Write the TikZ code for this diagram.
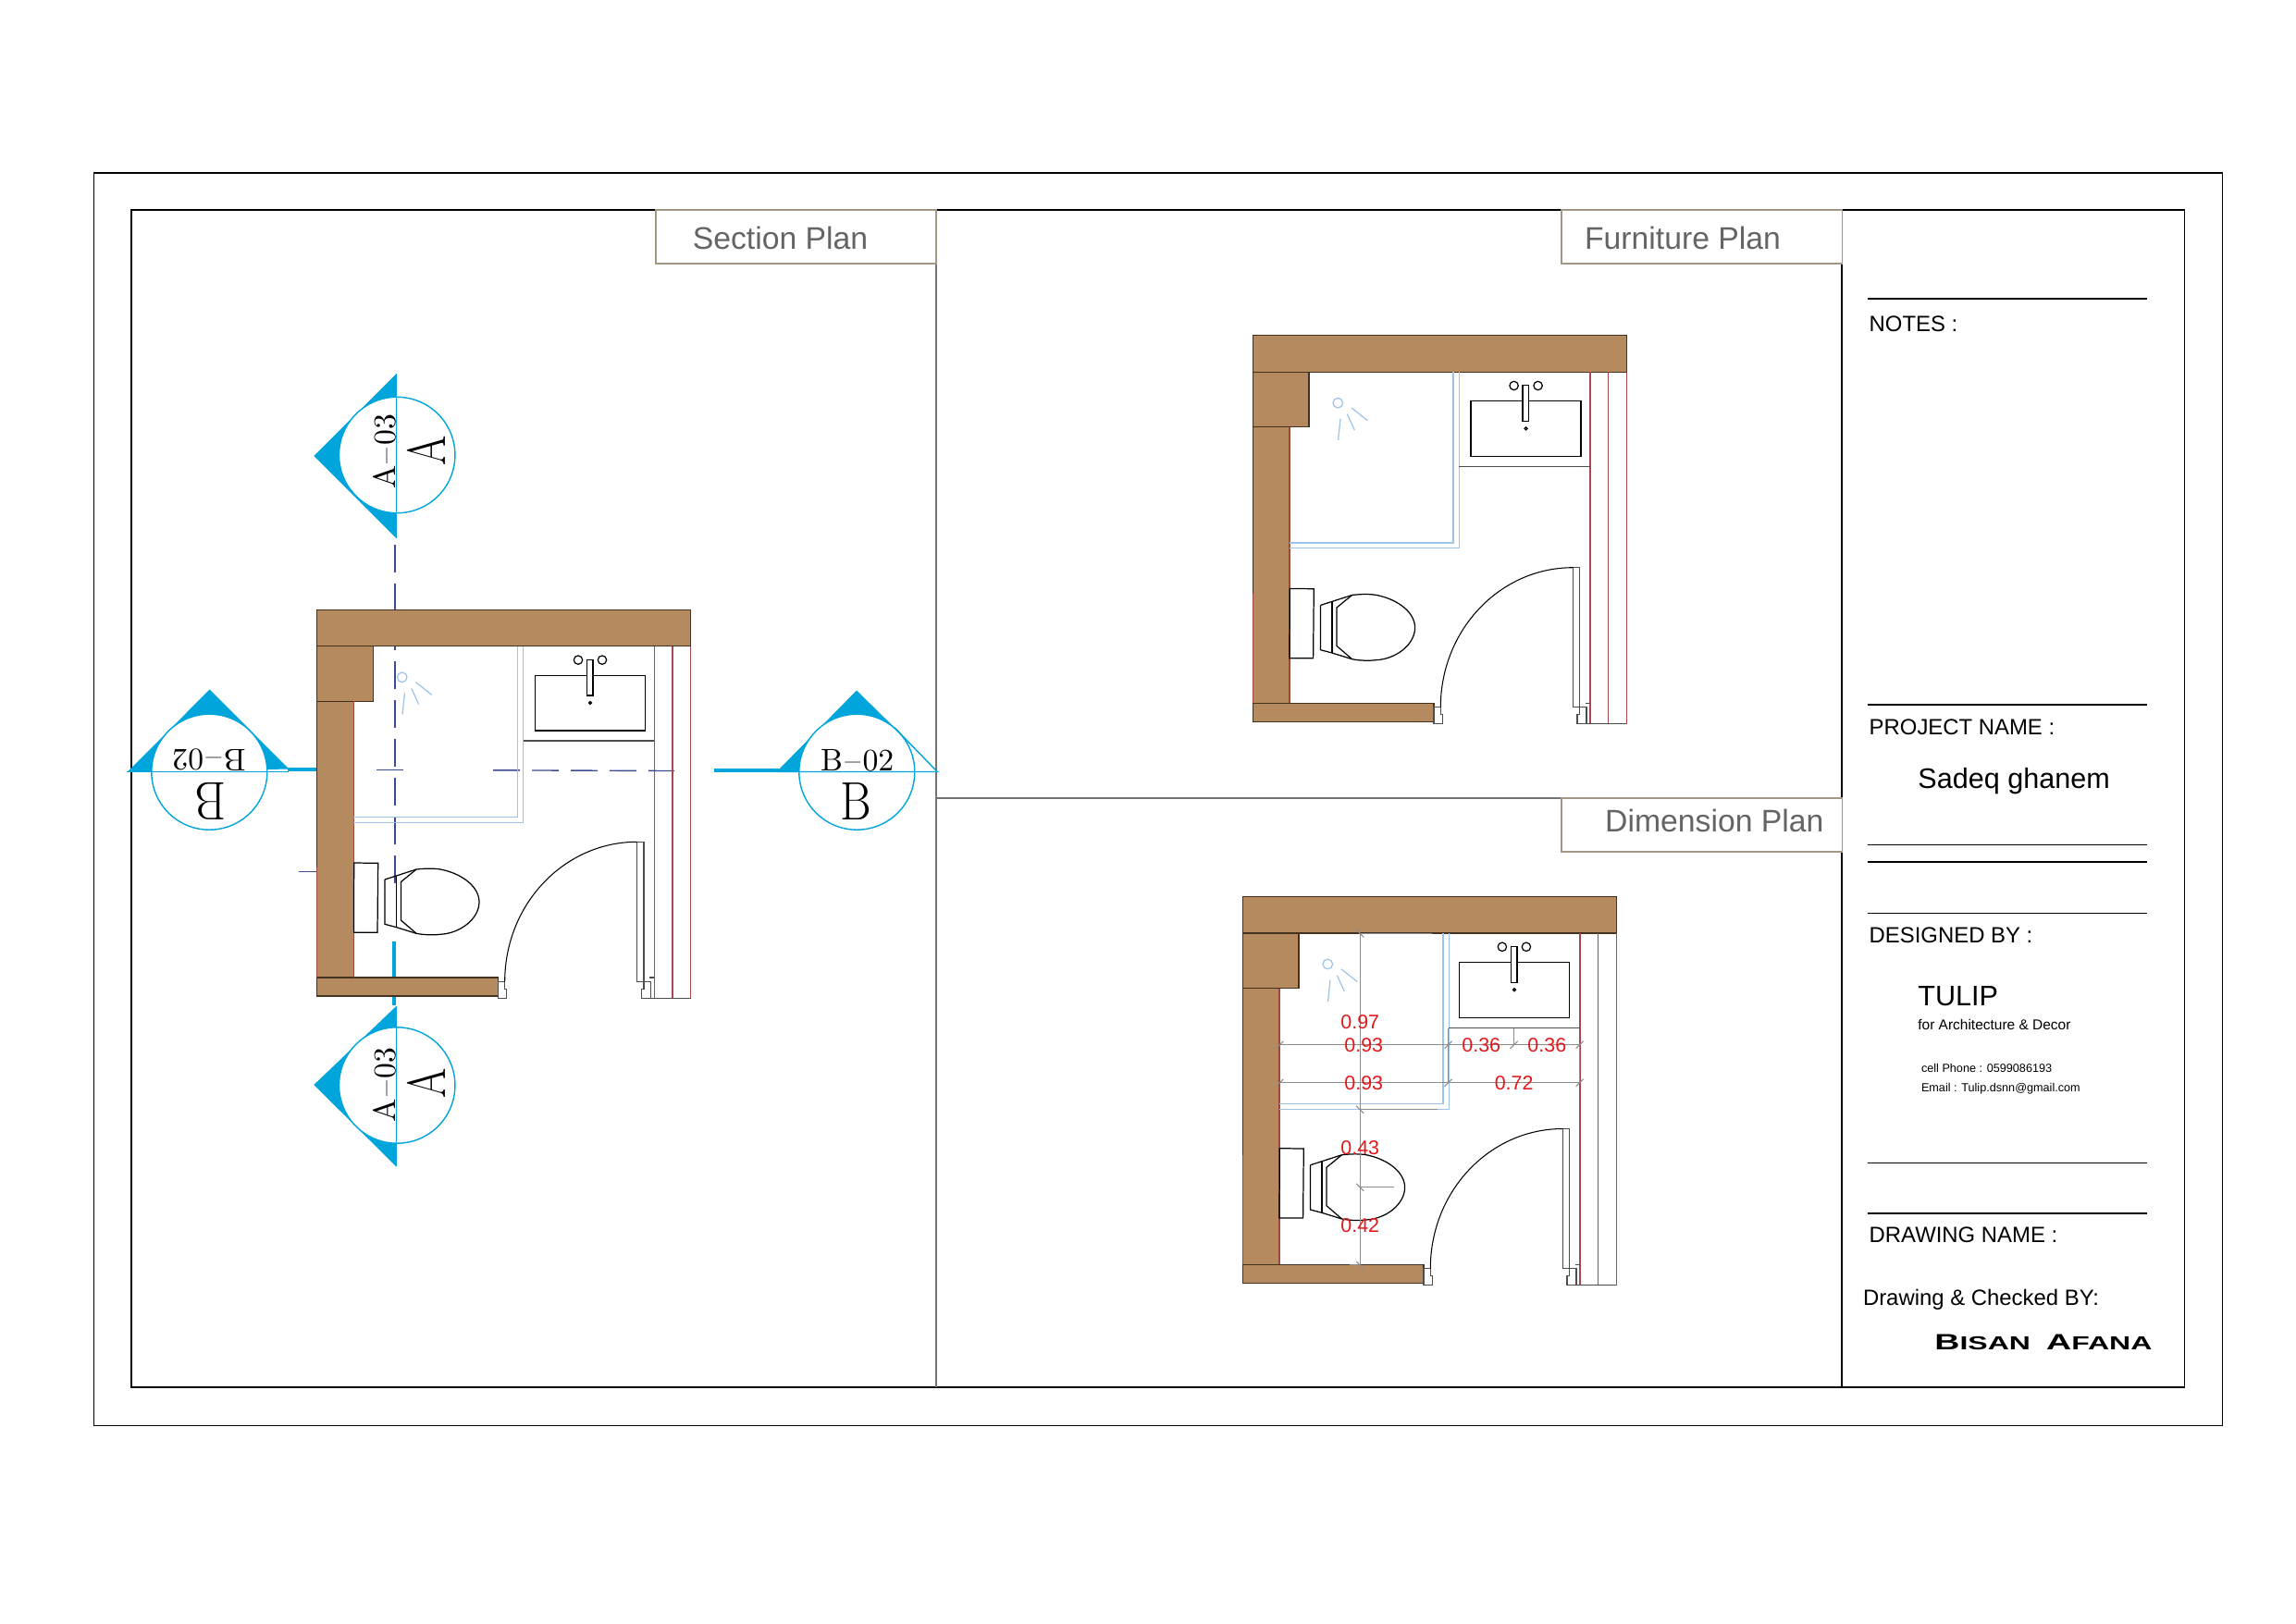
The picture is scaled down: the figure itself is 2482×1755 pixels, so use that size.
\documentclass[tikz,border=0pt]{standalone}
\usepackage{fontspec}
\setsansfont{Liberation Sans}

\definecolor{wallbrown}{HTML}{B58A5E}
\definecolor{walledge}{HTML}{43321F}
\definecolor{wallred}{HTML}{9C4A3A}
\definecolor{markerblue}{HTML}{00A5DC}
\definecolor{showerblue}{HTML}{9DC3E6}
\definecolor{fitred}{HTML}{A9474C}
\definecolor{cutnavy}{HTML}{3C4A8F}
\definecolor{tabtan}{HTML}{A39785}
\definecolor{tabgray}{HTML}{636466}
\definecolor{dimgray}{HTML}{8C8C8C}
\definecolor{dimred}{HTML}{E2181C}

\tikzset{
  wall/.style={fill=wallbrown,draw=walledge,line width=0.3pt},
  fixture/.style={draw=black,line width=0.35pt},
  doorline/.style={draw=black!70,line width=0.3pt},
  shower/.style={draw=showerblue,line width=0.35pt},
  fitline/.style={draw=fitred,line width=0.3pt},
  cutline/.style={draw=cutnavy,line width=0.4pt},
  sheetline/.style={draw=black,line width=0.45pt},
  panelline/.style={draw=black!55,line width=0.3pt},
  tab/.style={draw=tabtan,line width=0.45pt,fill=white},
  tabtext/.style={font=\sffamily\fontsize{9.6}{11}\selectfont,text=tabgray,inner sep=0pt},
  titletext/.style={font=\sffamily\fontsize{6.8}{8}\selectfont,anchor=west,inner sep=0pt},
  nametext/.style={font=\sffamily\fontsize{8.7}{10}\selectfont,anchor=west,inner sep=0pt},
  smalltext/.style={font=\sffamily\fontsize{3.6}{5}\selectfont,anchor=west,inner sep=0pt},
  refsmall/.style={font=\fontsize{9.6}{11}\selectfont,inner sep=0pt},
  refbig/.style={font=\fontsize{16.6}{18}\selectfont,inner sep=0pt},
  dimtext/.style={font=\sffamily\fontsize{6.1}{7}\selectfont,text=dimred,inner sep=0pt},
  dimline/.style={draw=dimgray,line width=0.3pt}
}

\begin{document}
\begin{tikzpicture}[x=0.1mm,y=-0.1mm]
\useasboundingbox (0,0) rectangle (2482,1755);

% sheet frame
\draw[sheetline] (101.5,187) rectangle (2402.5,1541.5);
\draw[sheetline] (142,227) rectangle (2361.5,1500);
\draw[panelline] (1012,227) -- (1012,1500);
\draw[panelline] (1012,863) -- (1991,863);
\draw[sheetline,line width=0.35pt] (1991,227) -- (1991,1500);

% title tabs
\draw[tab] (709,227) rectangle (1012,285);
\draw[tab] (1688,227) rectangle (1991.3,285);
\draw[tab] (1688,862.7) rectangle (1991.3,920.7);
\node[tabtext] (sectiontitle) at (843.5,257) {Section Plan};
\node[tabtext] (furnituretitle) at (1819,257.5) {Furniture Plan};
\node[tabtext] (dimensiontitle) at (1853.3,887) {Dimension Plan};

% cut lines
\draw[cutline,dash pattern=on 3mm off 1.2mm] (427,589) -- (427,957);
\draw[cutline,dash pattern=on 2.9mm off 1.3mm] (533,832.8) -- (729,833.5);
\draw[cutline] (407,832.7) -- (436,832.7);
\draw[cutline] (322.7,942.7) -- (343,942.7);

% blue bars
\draw[markerblue,line width=1.15pt] (426,1018) -- (426,1087);
\draw[markerblue,line width=1.15pt] (311,832) -- (343,832);
\draw[markerblue,line width=1.15pt] (772,832.5) -- (842,832.5);

% the same room three times, the last one with sink and toilet a little off
\foreach \px/\py/\sx/\ty in {342.7/659.3/0/0,1354.3/362.7/0/0,1343.3/969.5/-1.7/-1.5}{
\begin{scope}[shift={(\px,\py)}]
  % walls
  \draw[wall] (0,99) rectangle (39.7,397.7);
  \draw[wall] (0,0) rectangle (404,39.5);
  \draw[wall] (0,39.5) rectangle (60.7,99);
  \draw[wall] (0,397.7) rectangle (195.7,417.7);
  \draw[wallred] (39.7,99) -- (39.7,397.7);
  \draw[wallred,line width=0.3pt] (0,279) -- (0,397.7);
  % right side
  \draw[fitline] (364.7,39.5) -- (364.7,420);
  \draw[fitline] (384.3,39.5) -- (384.3,420);
  \draw[fitline] (404,39.5) -- (404,420);
  \draw[doorline] (350.7,420) -- (404,420);
  % shower
  \draw[shower] (216.7,39.5) -- (216.7,224.3) -- (39.7,224.3);
  \draw[shower] (223,39.5) -- (223,230) -- (39.7,230);
  \draw[shower] (92,73) circle (5.3);
  \draw[shower] (106.7,78.3) -- (124,92);
  \draw[shower] (102,85) -- (110,102.3);
  \draw[shower] (94.7,90) -- (92.3,113.3);
  % sink
  \draw[doorline,line width=0.35pt] (223,141.7) -- (364.7,141.7);
  \begin{scope}[xshift=\sx*0.1mm]
    \draw[fixture] (235.7,71) rectangle (354.7,130.7);
    \draw[fixture,fill=white] (291.7,54) rectangle (298.3,92.7);
    \draw[fixture] (282.3,54.3) circle (4.7);
    \draw[fixture] (308.3,54.3) circle (4.7);
    \draw[fixture] (295.3,100.7) circle (1.5);
  \end{scope}
  % toilet
  \begin{scope}[yshift=-\ty*0.1mm]
    \draw[fixture] (40,273.7) -- (66,274) -- (65.3,349) -- (39.7,349) -- cycle;
    \draw[fixture] (73.3,291.7) -- (85.7,287.7) -- (107.3,280.7);
    \draw[fixture] (73.3,291.7) -- (73.3,340) -- (85.7,343.3) -- (107.3,350);
    \draw[fixture] (85.7,287.7) -- (85.7,343.3);
    \draw[fixture] (107.3,280.7) -- (90.7,294.3) -- (90.7,335.7) -- (107.3,350);
    \draw[fixture] (107.3,280.7) .. controls (118,279.5) and (128,279.5) .. (135,281)
      .. controls (158,286) and (175.3,300) .. (175.3,316)
      .. controls (175.3,334) and (155,350) .. (133,351)
      .. controls (125,352) and (115,351.5) .. (107.3,350);
  \end{scope}
  % door
  \draw[doorline] (346,251) rectangle (353.3,402);
  \draw[doorline] (346,402) -- (360.7,402) -- (360.7,420) -- (350.7,420) -- (350.7,410) -- (353.3,410) -- (353.3,402);
  \draw[doorline] (359.3,397.7) -- (364.7,397.7);
  \draw[doorline] (195.7,402) -- (203,402) -- (203,410) -- (205,410) -- (205,420) -- (195.7,420) -- cycle;
  \draw[fixture,line width=0.3pt] (203,402) .. controls (203,318.6) and (267,251) .. (346,251);
\end{scope}
}

% section mark A, top
\fill[markerblue] (339.3,493) -- (428.3,404.4) -- (428.3,581.8) -- cycle;
\draw[markerblue,fill=white,line width=0.4pt] (429.2,492) circle (62.7);
\draw[markerblue,line width=0.5pt] (428.5,404.4) -- (428.5,581.8);
\node[refsmall,rotate=90] (topsheet) at (415.7,488.4) {A\kern0.07em--\kern0.07em03};
\node[refbig,rotate=90] (topletter) at (460.7,487.7) {\scalebox{0.8}[1]{A}};

% section mark A, bottom
\fill[markerblue] (339.3,1173) -- (428.3,1088) -- (428.3,1261.3) -- cycle;
\draw[markerblue,fill=white,line width=0.4pt] (429.2,1173.5) circle (62.7);
\draw[markerblue,line width=0.4pt] (428.3,1088) -- (428.3,1261.3);
\node[refsmall,rotate=90] (bottomsheet) at (415.7,1173) {A\kern0.07em--\kern0.07em03};
\node[refbig,rotate=90] (bottomletter) at (460.7,1171.3) {\scalebox{0.8}[1]{A}};

% section mark B, left
\fill[markerblue] (226.7,745.5) -- (137.3,835) -- (312.3,831.5) -- cycle;
\draw[markerblue,fill=white,line width=0.4pt] (226.3,834.7) circle (62.5);
\draw[markerblue,line width=0.5pt] (137.3,834.5) -- (312.3,834.5);
\node[refsmall,rotate=180] (leftsheet) at (226,821.3) {B\kern0.07em--\kern0.07em02};
\node[refbig,rotate=180] (leftletter) at (227.7,866.7) {\scalebox{0.88}[1]{B}};

% section mark B, right
\fill[markerblue] (926,746.5) -- (840,834) -- (989.3,834.5) -- (966.7,786.5) -- cycle;
\draw[markerblue,fill=white,line width=0.4pt] (926.3,834.7) circle (62.5);
\draw[markerblue,line width=0.4pt] (966.7,786.5) -- (1013.3,834.5) -- (840,834.5);
\node[refsmall] (rightsheet) at (926.7,822.2) {B\kern0.07em--\kern0.07em02};
\node[refbig] (rightletter) at (925,866.5) {\scalebox{0.88}[1]{B}};

% dimensions
\begin{scope}[shift={(1343.3,969.5)}]
  \draw[dimline] (127,40) -- (127,398.7);
  \draw[dimline] (127,40) -- (205,40);
  \draw[dimline] (127,230.3) -- (210.7,230.3);
  \draw[dimline] (127,314.3) -- (163.3,314.3);
  \draw[dimline] (116,397.7) -- (127,397.7);
  \foreach \ky in {40,230.3,314.3,398.7}
    \draw[dimline] (123,\ky-4) -- (131,\ky+4);
  \draw[dimline] (40,160.3) -- (364.3,160.3);
  \draw[dimline] (40,201.3) -- (364.3,201.3);
  \foreach \kx in {40,222.3,293.3,364.3}
    \draw[dimline] (\kx-4,164.3) -- (\kx+4,156.3);
  \foreach \kx in {40,222.3,364.3}
    \draw[dimline] (\kx-4,205.3) -- (\kx+4,197.3);
  \draw[dimline] (222.3,142) -- (222.3,201.3);
  \draw[dimline] (293.3,142) -- (293.3,160.3);
  \draw[dimline] (364.3,160.3) -- (364.3,201.3);
  \node[dimtext] (shortrun) at (127,135.3) {0.97};
  \node[dimtext] (showerupper) at (131,160.3) {0.93};
  \node[dimtext] (sinkleft) at (258,160.3) {0.36};
  \node[dimtext] (sinkright) at (329,160.3) {0.36};
  \node[dimtext] (showerlower) at (131,201.3) {0.93};
  \node[dimtext] (sinkwide) at (293.3,201.3) {0.72};
  \node[dimtext] (toiletupper) at (127,272) {0.43};
  \node[dimtext] (toiletlower) at (127,356) {0.42};
\end{scope}

% title block
\foreach \ly in {323,762,913.5,932.2,987.5,1257.5,1312}
  \draw[sheetline] (2018.5,\ly) -- (2321,\ly);
\node[titletext] (notes) at (2020,350) {NOTES :};
\node[titletext] (projectname) at (2020,786.6) {PROJECT NAME :};
\node[nametext] (clientname) at (2072.7,844.8) {Sadeq ghanem};
\node[titletext] (designedby) at (2020,1011) {DESIGNED BY :};
\node[nametext] (officename) at (2072.7,1077.5) {TULIP};
\node[smalltext,font=\sffamily\fontsize{4.4}{5}\selectfont] (officekind) at (2072.7,1107.5) {for Architecture \& Decor};
\node[smalltext] (officephone) at (2076.3,1154.5) {cell Phone : 0599086193};
\node[smalltext] (officemail) at (2076.3,1177) {Email : Tulip.dsnn@gmail.com};
\node[titletext] (drawingname) at (2020,1335.5) {DRAWING NAME :};
\node[titletext] (checkedby) at (2013.3,1405.7) {Drawing \& Checked BY:};
\node[titletext,font=\sffamily\bfseries] (checkername) at (2090.7,1451.5) {\scalebox{1.57}[1]{\fontsize{6.8}{8}\selectfont B\fontsize{5.8}{8}\selectfont ISAN\hspace{1.1mm}\fontsize{6.8}{8}\selectfont A\fontsize{5.8}{8}\selectfont FANA}};
\end{tikzpicture}
\end{document}
